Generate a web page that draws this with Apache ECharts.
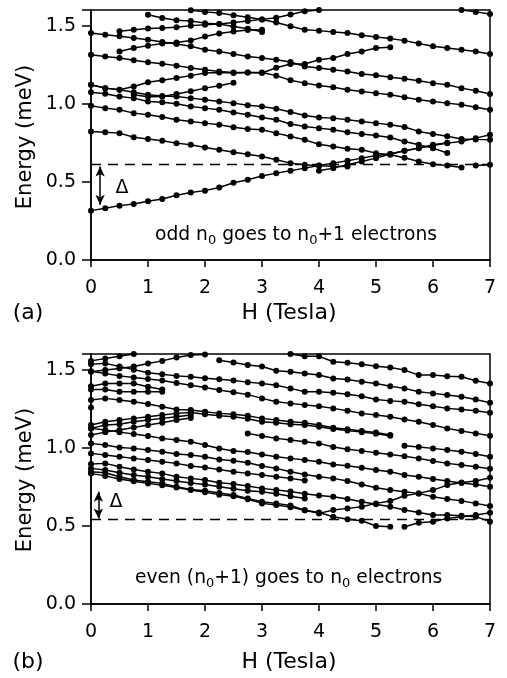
<!DOCTYPE html>
<html>
<head>
<meta charset="utf-8">
<script src="https://cdn.jsdelivr.net/npm/echarts@6/dist/echarts.min.js"></script>
<style>
html,body{margin:0;padding:0;background:#fff;}
#chart{width:507px;height:678px;}
</style>
</head>
<body>
<div id="chart"></div>
<script>
// ---------- DATA (energies in meV, sampled every 0.25 T from a start field) ----------
const fieldStep = 0.25;
const xTicks = [0, 1, 2, 3, 4, 5, 6, 7];
const yTicks = [0.0, 0.5, 1.0, 1.5];

// panel (a)
const aS1 = [0.316,0.331,0.348,0.359,0.376,0.391,0.415,0.432,0.444,0.464,0.494,0.513,0.538,0.556,0.571,0.588,0.605,0.62,0.635,0.652,0.669,0.678,0.699,0.716,0.733,0.748,0.759,0.78,0.801];
const aS2 = [0.823,0.818,0.812,0.786,0.774,0.763,0.748,0.737,0.72,0.705,0.69,0.677,0.662,0.641,0.62,0.609,0.603,0.60,0.598];
const aS3 = [0.571,0.588,0.609,0.63,0.652,0.678,0.699,0.716,0.737,0.75];
const aS4 = [0.987,0.972,0.962,0.94,0.929,0.915,0.897,0.887,0.876,0.865,0.85,0.838,0.833,0.812,0.79,0.769,0.741,0.727,0.712,0.705,0.684,0.673,0.655,0.63,0.613,0.605,0.592];
const aS4b = [0.605,0.609];
const aS5 = [1.073,1.064,1.047,1.036,1.015,1.009,1.0,0.983,0.972,0.962,0.944,0.929,0.912,0.897,0.87,0.855,0.844,0.833,0.818,0.806,0.797,0.784,0.759,0.737,0.716,0.685];
const aS6 = [1.122,1.10,1.09,1.073,1.058,1.05,1.047,1.036,1.026,1.015,1.004,0.99,0.983,0.968,0.947,0.925,0.912,0.908,0.897,0.887,0.876,0.866,0.851,0.823,0.806,0.792,0.775,0.772,0.77];
const aR1 = [1.122,1.10,1.09,1.111,1.137,1.15,1.165,1.18,1.197,1.20,1.197,1.20,1.197,1.23,1.254,1.254,1.282,1.293,1.318,1.335,1.357,1.361];
const aD1 = [1.314,1.303,1.293,1.278,1.265,1.256,1.244,1.229,1.218,1.207,1.20,1.20,1.20,1.18,1.15,1.132,1.117,1.105,1.09,1.079,1.068,1.058,1.041,1.026,1.015,1.004,0.994,0.977,0.962];
const aT1 = [1.453,1.442,1.432,1.421,1.41,1.395,1.382,1.368,1.346,1.335,1.318,1.303,1.293,1.282,1.267,1.239,1.229,1.218,1.207,1.19,1.182,1.169,1.16,1.147,1.132,1.122,1.10,1.083,1.062];
const aR2 = [1.058,1.045,1.047,1.062,1.08,1.10,1.115,1.135];
const aR3 = [1.335,1.357,1.372,1.385,1.392,1.405,1.43,1.45,1.462,1.472,1.474];
const aU1 = [1.598,1.588,1.581,1.566,1.554,1.539,1.52,1.496,1.474,1.468,1.459,1.453,1.438,1.427,1.417,1.404,1.385,1.368,1.357,1.346,1.335,1.318];
const aU2 = [1.57,1.549,1.535,1.53,1.516,1.51,1.495,1.48,1.46];
const aU3 = [1.464,1.474,1.481,1.485,1.489,1.50,1.506,1.51,1.52,1.53,1.54,1.55,1.571,1.592,1.6];
const aU4 = [1.6,1.588,1.575];
const aGap = 0.613;          // dashed level, panel (a)
const aArrow = [0.16, 0.598, 0.353];

// panel (b)
const bB1 = [1.556,1.571,1.586,1.6];
const bB2 = [1.486,1.497,1.507,1.52,1.539,1.556,1.578,1.593,1.597];
const bB3 = [1.535,1.54,1.52,1.50,1.48,1.47,1.46,1.455,1.445,1.438,1.431,1.42,1.411,1.40,1.38,1.358,1.358,1.352,1.343,1.33,1.309,1.30,1.294,1.279,1.266,1.252,1.245,1.237,1.224];
const bB4 = [1.56,1.545,1.53,1.52,1.493,1.486,1.475,1.465,1.443,1.437,1.422,1.411,1.394,1.38,1.358,1.348,1.337,1.326,1.309,1.288];
const bB5 = [1.6,1.586,1.586,1.55,1.544,1.535,1.522,1.514,1.497,1.465,1.465,1.458,1.454,1.429,1.411];
const bB6 = [1.49,1.475,1.46,1.45,1.44,1.43,1.415,1.40,1.385,1.37,1.355,1.34,1.316,1.294,1.284,1.273,1.266,1.252,1.237,1.22,1.209,1.198,1.181,1.166,1.145,1.124,1.107,1.092,1.077];
const bB7a = [1.394,1.411,1.411,1.411,1.39,1.373];
const bB7b = [1.373,1.373,1.358,1.358,1.358,1.358];
const bB8 = [1.305,1.316,1.305,1.295,1.28,1.262,1.245,1.241,1.23,1.22,1.215,1.205,1.188,1.177,1.166,1.16,1.145,1.128,1.119,1.107,1.098,1.081];
const bB9 = [1.145,1.166,1.177,1.188,1.198,1.209,1.22,1.225,1.215,1.205,1.198,1.185,1.166,1.16,1.15,1.145,1.135,1.12,1.11,1.10,1.09,1.077];
const bB10 = [1.124,1.145,1.151,1.166,1.177,1.188,1.198,1.209];
const bB11 = [1.081,1.10,1.113,1.13,1.145,1.16,1.177,1.19];
const bRowF = [1.092,1.075,1.06,1.049,1.038,1.028,1.005,0.991,0.98,0.968,0.957,0.945,0.932,0.915,0.90,0.889,0.878,0.865];
const bRowG = [1.013,1.005,0.996,0.985,0.975,0.96,0.942];
const bF1 = [1.124,1.113,1.10,1.088,1.075,1.06,1.049,1.038,1.017,0.995,0.979,0.973,0.957,0.942,0.932,0.921,0.91,0.893,0.885,0.872,0.857,0.846,0.825,0.814,0.80,0.787,0.775,0.765,0.75];
const bF2 = [1.028,1.017,1.002,0.996,0.985,0.974,0.96,0.953,0.942,0.925,0.917,0.904,0.883,0.868,0.846,0.829,0.814,0.804,0.787,0.765,0.744,0.729,0.719,0.708,0.687,0.672,0.66,0.644,0.627];
const bF3 = [0.964,0.953,0.942,0.932,0.921,0.91,0.90,0.883,0.874,0.861,0.846,0.836,0.825,0.814,0.804,0.79];
const bF4 = [0.896,0.90,0.878,0.861,0.846,0.836,0.814,0.804,0.793,0.776,0.768,0.755,0.74,0.73,0.72,0.705,0.695,0.687,0.672,0.655,0.638,0.623,0.601,0.586,0.569,0.569,0.565,0.559,0.527];
const bF5 = [0.868,0.858,0.84,0.825,0.814,0.80,0.787,0.775,0.765,0.75,0.737,0.725,0.718,0.705,0.69,0.675];
const bF6 = [0.846,0.84,0.814,0.793,0.783,0.772,0.75,0.733,0.725,0.71,0.697,0.676,0.655,0.644,0.63,0.60,0.58,0.601,0.612,0.623,0.644,0.659,0.693,0.708,0.729,0.761,0.778,0.787,0.808];
const bF7 = [0.836,0.82,0.80,0.785,0.772,0.76,0.745,0.73,0.715,0.70,0.69,0.67,0.644,0.633,0.62,0.60,0.585,0.559,0.542,0.533,0.499,0.495];
const bF7b = [0.495,0.52,0.527,0.548,0.559,0.569,0.584];
const bDot = [1.258];
const bGap = 0.537;          // dashed level, panel (b)
const bArrow = [0.13, 0.718, 0.548];

// start fields (T) of each curve
const aCurves = [[0,aS1],[0,aS2],[4,aS3],[0,aS4],[6.75,aS4b],[0,aS5],[0,aS6],[0,aR1],[0,aD1],[0,aT1],[0.75,aR2],[0.5,aR3],[1.75,aU1],[1,aU2],[0.5,aU3],[6.5,aU4]];
const bCurves = [[0,bB1],[0,bB2],[0,bB3],[2.25,bB4],[3.5,bB5],[0,bB6],[0,bB7a],[0,bB7b],[0,bB8],[0,bB9],[0,bB10],[0,bB11],[2.75,bRowF],[5.5,bRowG],[0,bF1],[0,bF2],[0,bF3],[0,bF4],[0,bF5],[0,bF6],[0,bF7],[5.5,bF7b],[0,bDot]];

// ---------- CHART ----------
const FONT = '"DejaVu Sans", "Liberation Sans", sans-serif';
const chart = echarts.init(document.getElementById('chart'), null, {renderer:'canvas'});

function pairs(start, vals){ return vals.map((e,i)=>[start + i*fieldStep, e]); }
function curve(start, vals, k){
  return {type:'line', xAxisIndex:k, yAxisIndex:k, data:pairs(start, vals),
    symbol:'circle', symbolSize:6, showSymbol:true, showAllSymbol:true,
    itemStyle:{color:'#000'}, lineStyle:{color:'#000', width:1.5},
    animation:false, silent:true, z:3};
}
function xAx(k){
  return {gridIndex:k, type:'value', min:0, max:7, interval:1,
    axisLine:{show:true, onZero:false, lineStyle:{color:'#000', width:1.5}},
    axisTick:{show:true, length:7, lineStyle:{color:'#000', width:1.5}},
    axisLabel:{color:'#000', fontSize:19, fontFamily:FONT, margin:19,
      formatter:v=>xTicks.includes(v)?String(v):''},
    splitLine:{show:false}};
}
function yAx(k){
  return {gridIndex:k, type:'value', min:0, max:1.6, interval:0.5,
    axisLine:{show:true, onZero:false, lineStyle:{color:'#000', width:1.5}},
    axisTick:{show:true, length:9, lineStyle:{color:'#000', width:1.5}},
    axisLabel:{color:'#000', fontSize:19, fontFamily:FONT, margin:15,
      formatter:v=>yTicks.some(t=>Math.abs(t-v)<1e-9)?v.toFixed(1):''},
    splitLine:{show:false}};
}
function guides(k, gap, arrow){
  return [
    {type:'line', xAxisIndex:k, yAxisIndex:k, data:[], silent:true, animation:false,
      markLine:{silent:true, symbol:'none', label:{show:false}, animation:false,
        lineStyle:{color:'#000', width:1.3, type:[10,7]}, data:[{yAxis:gap}]}},
    {type:'line', xAxisIndex:k, yAxisIndex:k, data:[], silent:true, animation:false,
      markLine:{silent:true, symbol:['arrow','arrow'], symbolSize:[7,10], label:{show:false}, animation:false,
        lineStyle:{color:'#000', width:1.5, type:'solid'},
        data:[[{coord:[arrow[0],arrow[1]]},{coord:[arrow[0],arrow[2]]}]]}}
  ];
}

const series = [];
aCurves.forEach(c=>series.push(curve(c[0], c[1], 0)));
bCurves.forEach(c=>series.push(curve(c[0], c[1], 1)));
series.push(...guides(0, aGap, aArrow));
series.push(...guides(1, bGap, bArrow));

function txt(x, y, text, size, opts){
  return Object.assign({type:'text', x:x, y:y, silent:true, z:10,
    style:Object.assign({text:text, font:size+'px '+FONT, fill:'#000',
      align:'center', verticalAlign:'middle', textAlign:'center', textVerticalAlign:'middle'}, (opts&&opts.style)||{})},
    (opts&&opts.el)||{});
}
const richStyle = {
  m:{fontSize:18.7, fontFamily:FONT, lineHeight:24, verticalAlign:'middle'},
  s:{fontSize:13, fontFamily:FONT, lineHeight:24, verticalAlign:'bottom'}
};

chart.setOption({
  backgroundColor:'#fff',
  animation:false,
  grid:[
    {left:91, top:10, width:399, height:250, show:true, borderColor:'#000', borderWidth:1.5, backgroundColor:'transparent'},
    {left:91, top:354, width:399, height:250, show:true, borderColor:'#000', borderWidth:1.5, backgroundColor:'transparent'}
  ],
  xAxis:[xAx(0), xAx(1)],
  yAxis:[yAx(0), yAx(1)],
  series:series,
  graphic:[
    txt(26, 137, 'Energy (meV)', 21, {el:{rotation:Math.PI/2}}),
    txt(26, 480, 'Energy (meV)', 21, {el:{rotation:Math.PI/2}}),
    txt(289, 313, 'H (Tesla)', 22),
    txt(289, 662, 'H (Tesla)', 22),
    txt(28, 313, '(a)', 22),
    txt(28, 662, '(b)', 22),
    txt(122, 188, 'Δ', 19),
    txt(116, 502, 'Δ', 19),
    {type:'text', x:155, y:235, silent:true, z:10,
      style:{text:'{m|odd n}{s|0}{m| goes to n}{s|0}{m|+1 electrons}', rich:richStyle,
        fill:'#000', align:'left', verticalAlign:'middle', textAlign:'left', textVerticalAlign:'middle', font:'18.7px '+FONT}},
    {type:'text', x:135, y:578, silent:true, z:10,
      style:{text:'{m|even (n}{s|0}{m|+1) goes to n}{s|0}{m| electrons}', rich:richStyle,
        fill:'#000', align:'left', verticalAlign:'middle', textAlign:'left', textVerticalAlign:'middle', font:'18.7px '+FONT}}
  ]
});
</script>
</body>
</html>
